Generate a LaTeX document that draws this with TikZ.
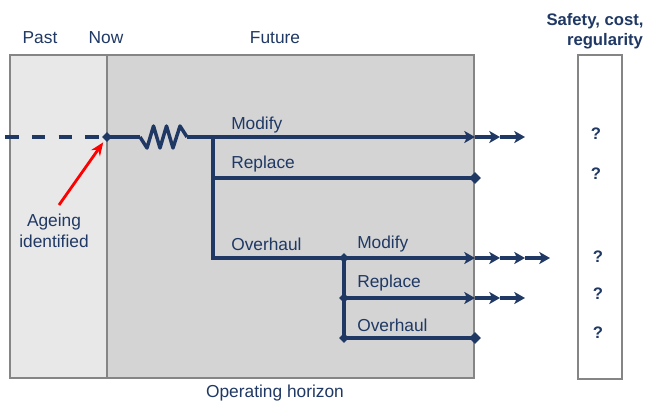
\documentclass[tikz,border=0pt]{standalone}
\usepackage{fontspec}
\setmainfont{Liberation Sans}
\usetikzlibrary{arrows.meta,shapes.geometric}
\definecolor{navy}{HTML}{1F3864}
\definecolor{pastgray}{HTML}{E8E8E8}
\definecolor{futgray}{HTML}{D4D4D4}
\definecolor{edgegray}{HTML}{858585}
\begin{document}
\begin{tikzpicture}[x=0.75pt,y=-0.75pt,
  flow/.style={draw=navy,line width=2.6pt,line join=miter},
  tipped/.style={flow,-{Stealth[length=8pt,width=9pt,inset=2pt]}},
  dot/.style={diamond,fill=navy,inner sep=0pt,minimum size=7.5pt},
  enddot/.style={diamond,fill=navy,inner sep=0pt,minimum size=9pt},
  lbl/.style={text=navy,font=\fontsize{13}{15}\selectfont,inner sep=0pt},
  qlbl/.style={text=navy,font=\fontsize{12.5}{15}\selectfont\bfseries,inner sep=0pt},
  panel/.style={draw=edgegray,line width=0.9pt}]
\useasboundingbox (0,0) rectangle (650,401);

% panels
\path[panel,fill=pastgray] (10,55) rectangle (107,378);
\path[panel,fill=futgray] (107,55) rectangle (474,378);
\draw[edgegray,line width=1.4pt] (107,55) -- (107,378);
\path[panel,fill=white,line width=1.1pt] (578,55) rectangle (622,379);

% headers
\node[lbl] (past) at (40,38) {Past};
\node[lbl] (nowlbl) at (106,38) {Now};
\node[lbl] (future) at (275,38) {Future};
\node[qlbl] (crit1) at (595,21) {Safety, cost,};
\node[qlbl] (crit2) at (605,41) {regularity};
\node[lbl] (horizon) at (275,393) {Operating horizon};

% coordinates
\coordinate (start) at (0,137);
\coordinate (now) at (107,137);
\coordinate (z0) at (140,137);
\coordinate (z1) at (187,137);
\coordinate (b1) at (213,137);
\coordinate (m1e) at (475,137);
\coordinate (m1a) at (500,137);
\coordinate (m1b) at (525,137);
\coordinate (b1r) at (213,178);
\coordinate (r1e) at (475,178);
\coordinate (b1o) at (213,258);
\coordinate (b2) at (344,258);
\coordinate (m2e) at (475,258);
\coordinate (m2a) at (500,258);
\coordinate (m2b) at (525,258);
\coordinate (m2c) at (550,258);
\coordinate (b3) at (344,298);
\coordinate (r2e) at (475,298);
\coordinate (r2a) at (500,298);
\coordinate (r2b) at (525,298);
\coordinate (b4) at (344,338);
\coordinate (o2e) at (475,338);

% past dashed
\draw[flow,dash pattern=on 10pt off 10pt,dash phase=-4pt] (start) -- (now);
% main line with zigzag
\draw[flow] (now) -- (z0);
\draw[flow,line join=round] (z0) -- ++(7,11) -- ++(6.5,-22) -- ++(6.5,22) -- ++(6.5,-22) -- ++(6.5,22) -- ++(7,-22) -- (z1);
\draw[flow] (z1) -- (b1);
\draw[tipped] (b1) -- (m1e);
\draw[tipped] (m1e) -- (m1a);
\draw[tipped] (m1a) -- (m1b);
% first branch
\draw[flow] (b1) -- (b1o) -- (b2);
\draw[flow] (b1r) -- (r1e);
\draw[tipped] (b2) -- (m2e);
\draw[tipped] (m2e) -- (m2a);
\draw[tipped] (m2a) -- (m2b);
\draw[tipped] (m2b) -- (m2c);
% second branch
\draw[flow] (b2) -- (b4);
\draw[tipped] (b3) -- (r2e);
\draw[tipped] (r2e) -- (r2a);
\draw[tipped] (r2a) -- (r2b);
\draw[flow] (b4) -- (o2e);

% dots
\node[dot] (dnow) at (now) {};
\node[enddot] (dr1) at (r1e) {};
\node[dot] (db2) at (b2) {};
\node[dot] (db3) at (b3) {};
\node[dot] (db4) at (b4) {};
\node[enddot] (do2) at (o2e) {};

% branch labels
\node[lbl,anchor=west] (mod1) at (231,125) {Modify};
\node[lbl,anchor=west] (rep1) at (231,164) {Replace};
\node[lbl,anchor=west] (ovh1) at (231,244) {Overhaul};
\node[lbl,anchor=west] (mod2) at (357,244) {Modify};
\node[lbl,anchor=west] (rep2) at (357,283) {Replace};
\node[lbl,anchor=west] (ovh2) at (357,325) {Overhaul};

% question marks
\node[qlbl] (q1) at (596,134) {?};
\node[qlbl] (q2) at (596,174) {?};
\node[qlbl] (q3) at (598,257) {?};
\node[qlbl] (q4) at (598,294) {?};
\node[qlbl] (q5) at (598,333) {?};

% ageing
\node[lbl,align=center] (ageing) at (54,231) {Ageing\\[1pt]identified};
\coordinate (ageStart) at (59,205);
\draw[red,line width=2.1pt,-{Stealth[length=10pt,width=8pt]},shorten >=2pt] (ageStart) -- (dnow);
\end{tikzpicture}
\end{document}
